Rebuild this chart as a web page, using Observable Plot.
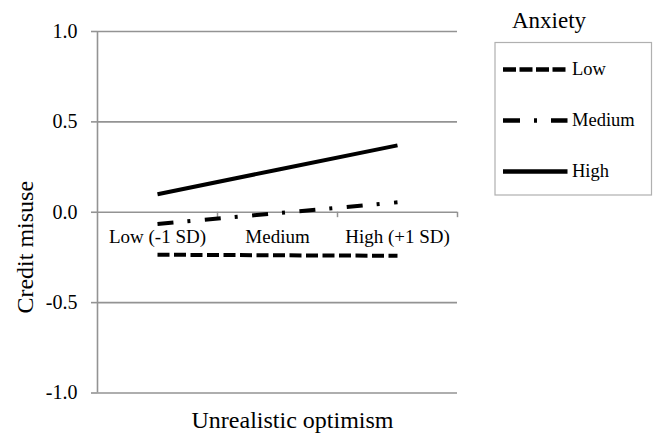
<!DOCTYPE html>
<html><head><meta charset="utf-8">
<script src="https://cdn.jsdelivr.net/npm/d3@7"></script>
<script src="https://cdn.jsdelivr.net/npm/@observablehq/plot@0.6"></script>
<style>body{margin:0;background:#fff} #chart{width:659px;height:433px} #chart svg text{font-family:"Liberation Serif","DejaVu Serif",serif}</style>
</head><body><div id="chart"></div>
<script>
const categories = ["Low (-1 SD)", "Medium", "High (+1 SD)"];
const seriesNames = ["Low", "Medium", "High"];
const lowValues = [-0.235, -0.238, -0.241];
const mediumValues = [-0.065, -0.005, 0.055];
const highValues = [0.10, 0.235, 0.37];
const yTicks = [-1, -0.5, 0, 0.5, 1];
const legendTitle = "Anxiety";
const xLabel = "Unrealistic optimism";
const yLabel = "Credit misuse";

const FONT = "Liberation Serif";
const GRID = "#939393";
const dashes = {Low: "12,4.5", Medium: "16,14,3,14.5", High: null};
const legendDashes = {Low: "13,3.5", Medium: "17,14,3,14", High: null};

const valuesBy = {Low: lowValues, Medium: mediumValues, High: highValues};
const rows = seriesNames.flatMap(s => valuesBy[s].map((v, i) => ({series: s, xi: i, value: v})));
const bounds = d3.range(categories.length + 1).map(i => i - 0.5);

const plot = Plot.plot({
  width: 659, height: 433,
  marginLeft: 97, marginRight: 202, marginTop: 31, marginBottom: 40.5,
  style: {fontFamily: FONT, color: "black", background: "white"},
  x: {type: "linear", domain: [bounds[0], bounds[bounds.length - 1]], axis: null},
  y: {domain: [-1, 1]},
  marks: [
    Plot.ruleY(yTicks, {stroke: GRID, strokeWidth: 1.6}),
    Plot.ruleX([bounds[0]], {stroke: GRID, strokeWidth: 1.6}),
    Plot.ruleX(bounds.slice(1), {y1: 0, y2: -0.03, stroke: GRID, strokeWidth: 1.5}),
    Plot.axisY({ticks: yTicks, tickFormat: d => d.toFixed(1), tickSize: 6, tickPadding: 14,
      fontSize: 20, fontFamily: FONT, stroke: GRID, strokeWidth: 1.6, fill: "black", label: null}),
    ...seriesNames.map(s => Plot.line(rows.filter(r => r.series === s), {
      x: "xi", y: "value", stroke: "black", strokeWidth: 4, strokeLinecap: "butt",
      strokeDasharray: dashes[s]
    })),
    Plot.text(categories, {x: (d, i) => i, y: () => 0, dy: 25, text: d => d, fontSize: 19, fontFamily: FONT, fill: "black"}),
    Plot.text([yLabel], {frameAnchor: "left", rotate: -90, dx: -72, dy: 35, fontSize: 24, fontFamily: FONT,
      fill: "black", lineAnchor: "middle", textAnchor: "middle"}),
    Plot.text([xLabel], {frameAnchor: "bottom", dx: 15, dy: 27, fontSize: 24, fontFamily: FONT,
      fill: "black", lineAnchor: "middle", textAnchor: "middle"})
  ]
});
document.getElementById("chart").appendChild(plot);

// Legend
const svg = d3.select(plot);
const lg = svg.append("g").attr("font-family", FONT).attr("text-anchor", "start");
lg.append("text").attr("x", 512).attr("y", 28).attr("font-size", 23).attr("fill", "black").text(legendTitle);
lg.append("rect").attr("x", 495).attr("y", 42.5).attr("width", 156.5).attr("height", 152.5)
  .attr("fill", "none").attr("stroke", "#b0b0b0").attr("stroke-width", 1.2);
seriesNames.forEach((s, i) => {
  const y = 69.5 + i * 51;
  lg.append("line").attr("x1", 503).attr("x2", 567.5).attr("y1", y).attr("y2", y)
    .attr("stroke", "black").attr("stroke-width", 4.5)
    .attr("stroke-dasharray", legendDashes[s]);
  lg.append("text").attr("x", 572).attr("y", y).attr("dy", "0.32em")
    .attr("font-size", 18.5).attr("fill", "black").text(s);
});
</script></body></html>
